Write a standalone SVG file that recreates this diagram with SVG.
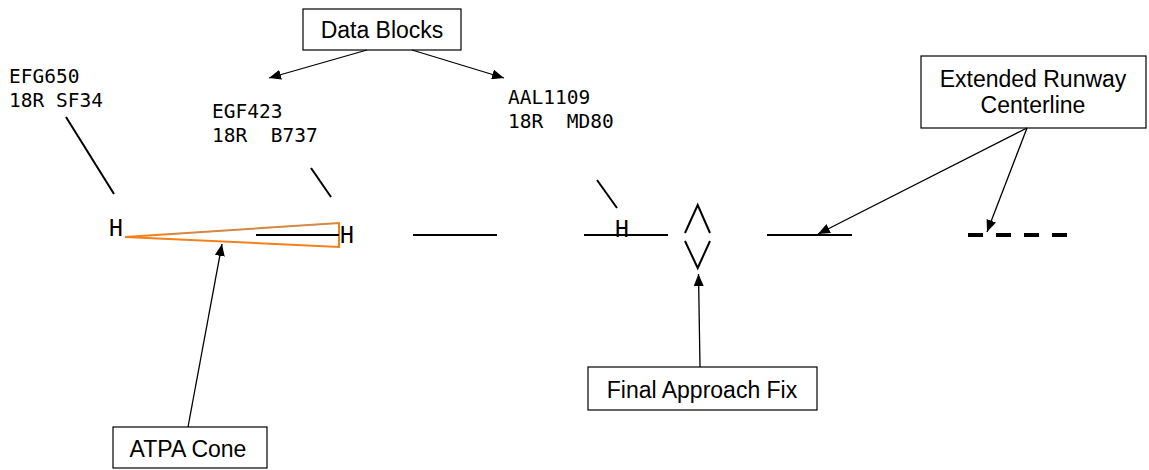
<svg xmlns="http://www.w3.org/2000/svg" width="1149" height="470" viewBox="0 0 1149 470">
<defs>
<marker id="ah" viewBox="0 0 12 10" refX="12" refY="5" markerWidth="12" markerHeight="10" markerUnits="userSpaceOnUse" orient="auto"><path d="M0,0 L12,5 L0,10 Z" fill="#000"/></marker>
<style>
.box{fill:#fff;stroke:#000;stroke-width:1.2}
.lbl{font-family:"Liberation Sans",Arial,sans-serif;font-size:23px;fill:#000;text-anchor:middle}
.mono{font-family:"DejaVu Sans Mono",monospace;font-size:19.5px;fill:#000}
.h{font-family:"DejaVu Sans Mono",monospace;font-size:23px;fill:#000}
.ln{stroke:#000;stroke-width:2;fill:none}
.conn{stroke:#000;stroke-width:1.3;fill:none;marker-end:url(#ah)}
</style>
</defs>
<rect width="1149" height="470" fill="#fff"/>
<g id="datablocks"><rect class="box" x="303" y="9" width="158" height="41"/><text class="lbl" x="382" y="38">Data Blocks</text></g>
<g id="runway-label"><rect class="box" x="921" y="56" width="225" height="72"/><text class="lbl" x="1033" y="87">Extended Runway</text><text class="lbl" x="1033" y="113">Centerline</text></g>
<g id="faf-label"><rect class="box" x="588" y="367" width="229" height="43"/><text class="lbl" x="702" y="398">Final Approach Fix</text></g>
<g id="atpa-label"><rect class="box" x="113" y="427" width="154" height="41"/><text class="lbl" x="188" y="457">ATPA Cone</text></g>
<g id="ac1"><text class="mono" x="9" y="83">EFG650</text><text class="mono" x="9" y="107">18R SF34</text><line class="ln" x1="66" y1="117" x2="114" y2="194"/><text class="h" x="109" y="236">H</text></g>
<g id="ac2"><text class="mono" x="212" y="118">EGF423</text><text class="mono" x="212" y="142" xml:space="preserve">18R  B737</text><line class="ln" x1="311" y1="168" x2="331" y2="197"/><text class="h" x="340" y="243">H</text></g>
<g id="ac3"><text class="mono" x="508" y="104">AAL1109</text><text class="mono" x="508" y="128" xml:space="preserve">18R  MD80</text><line class="ln" x1="597" y1="180" x2="617" y2="208"/><text class="h" x="615" y="237">H</text></g>
<g id="cone"><polygon points="125,237 339,223 339,247" fill="none" stroke="#f5801a" stroke-width="2"/><line x1="170" y1="234.2" x2="335" y2="223.4" stroke="#9a9a9a" stroke-width="0.9" opacity="0.7"/><line class="ln" x1="256" y1="235" x2="339" y2="235"/></g>
<g id="centerline"><line class="ln" x1="413" y1="235" x2="497" y2="235"/><line class="ln" x1="584" y1="235" x2="668" y2="235"/><line class="ln" x1="767" y1="235" x2="852" y2="235"/><line x1="968" y1="235" x2="1068" y2="235" stroke="#000" stroke-width="4" stroke-dasharray="15 13"/></g>
<g id="faf"><polyline class="ln" points="685,233 697.7,205 710,233"/><polyline class="ln" points="685,241 697.7,268 710,241"/></g>
<g id="connectors">
<line class="conn" x1="367" y1="50" x2="269" y2="78"/>
<line class="conn" x1="412" y1="50" x2="504" y2="78"/>
<line class="conn" x1="1027" y1="128" x2="818" y2="234"/>
<line class="conn" x1="1027" y1="128" x2="987" y2="232"/>
<line class="conn" x1="700" y1="367" x2="698.5" y2="274"/>
<line class="conn" x1="188" y1="427" x2="222" y2="244"/>
</g>
</svg>
